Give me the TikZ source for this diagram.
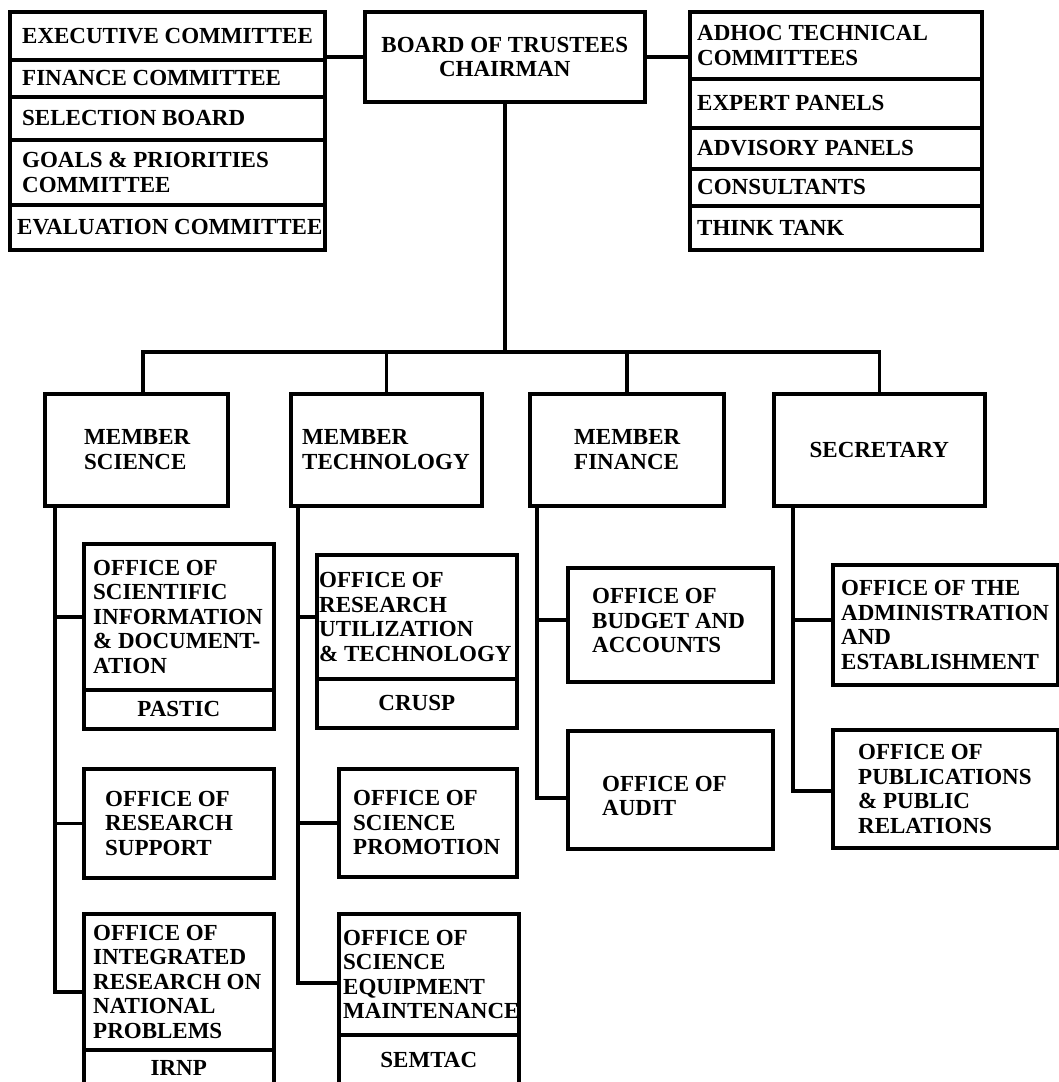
\documentclass[tikz,border=0pt]{standalone}
\usepackage{fontspec}
\setmainfont{Liberation Serif}
\usetikzlibrary{calc}
\newcommand\orglbl{\fontsize{23}{24.5}\selectfont\bfseries}
\tikzset{
  bx/.style={draw, line width=3.6pt, rectangle, inner sep=0pt, anchor=north west},
  ctx/.style={bx, font=\orglbl, align=center},
  tx/.style={font=\orglbl, align=left, inner sep=0pt, anchor=west},
  ln/.style={line width=3.6pt},
}
\begin{document}
\begin{tikzpicture}[x=1pt,y=-1pt]
\useasboundingbox (0,0) rectangle (1058,1082);
% ---------- left stack
\node[bx, minimum width=315, minimum height=48] (ec) at (8,10) {};
\node[bx, minimum width=315, minimum height=37] (fc) at (8,58) {};
\node[bx, minimum width=315, minimum height=43] (sb) at (8,95) {};
\node[bx, minimum width=315, minimum height=65] (gp) at (8,138) {};
\node[bx, minimum width=315, minimum height=45] (evc) at (8,203) {};
\node[tx] (ec-t) at ($(ec.west)+(14,0)$) {EXECUTIVE COMMITTEE};
\node[tx] (fc-t) at ($(fc.west)+(14,0)$) {FINANCE COMMITTEE};
\node[tx] (sb-t) at ($(sb.west)+(14,0)$) {SELECTION BOARD};
\node[tx] (gp-t) at ($(gp.west)+(14,0)$) {GOALS \& PRIORITIES\\COMMITTEE};
\node[tx] (evc-t) at ($(evc.west)+(9,0)$) {EVALUATION COMMITTEE};
% ---------- board
\node[ctx, minimum width=280, minimum height=90] (bot) at (363,10) {BOARD OF TRUSTEES\\CHAIRMAN};
% ---------- right stack
\node[bx, minimum width=292, minimum height=67] (adhoc) at (688,10) {};
\node[bx, minimum width=292, minimum height=49] (expert) at (688,77) {};
\node[bx, minimum width=292, minimum height=41] (advisory) at (688,126) {};
\node[bx, minimum width=292, minimum height=37] (consult) at (688,167) {};
\node[bx, minimum width=292, minimum height=44] (think) at (688,204) {};
\node[tx] (adhoc-t) at ($(adhoc.west)+(9,0)$) {ADHOC TECHNICAL\\COMMITTEES};
\node[tx] (expert-t) at ($(expert.west)+(9,0)$) {EXPERT PANELS};
\node[tx] (advisory-t) at ($(advisory.west)+(9,0)$) {ADVISORY PANELS};
\node[tx] (consult-t) at ($(consult.west)+(9,0)$) {CONSULTANTS};
\node[tx] (think-t) at ($(think.west)+(9,0)$) {THINK TANK};
% ---------- members
\node[bx, minimum width=183, minimum height=112] (msc) at (43,392) {};
\node[bx, minimum width=191, minimum height=112] (mtech) at (289,392) {};
\node[bx, minimum width=194, minimum height=112] (mfin) at (528,392) {};
\node[ctx, minimum width=211, minimum height=112] (sec) at (772,392) {SECRETARY};
\node[tx] (msc-t) at ($(msc.west)+(41,0)$) {MEMBER\\SCIENCE};
\node[tx] (mtech-t) at ($(mtech.west)+(13,0)$) {MEMBER\\TECHNOLOGY};
\node[tx] (mfin-t) at ($(mfin.west)+(46,0)$) {MEMBER\\FINANCE};
% ---------- science offices
\node[bx, minimum width=190, minimum height=146] (osid) at (82,542) {};
\node[ctx, minimum width=190, minimum height=39] (pastic) at (82,688) {PASTIC};
\node[tx] (osid-t) at ($(osid.west)+(11,0)$) {OFFICE OF\\SCIENTIFIC\\INFORMATION\\\& DOCUMENT-\\ATION};
\node[bx, minimum width=190, minimum height=109] (orsup) at (82,767) {};
\node[tx] (orsup-t) at ($(orsup.west)+(23,0)$) {OFFICE OF\\RESEARCH\\SUPPORT};
\node[bx, minimum width=190, minimum height=136] (oirnp) at (82,912) {};
\node[ctx, minimum width=190, minimum height=36] (irnp) at (82,1048) {IRNP};
\node[tx] (oirnp-t) at ($(oirnp.west)+(11,0)$) {OFFICE OF\\INTEGRATED\\RESEARCH ON\\NATIONAL\\PROBLEMS};
% ---------- technology offices
\node[bx, minimum width=200, minimum height=124] (oru) at (315,553) {};
\node[ctx, minimum width=200, minimum height=49] (crusp) at (315,677) {CRUSP};
\node[tx] (oru-t) at ($(oru.west)+(4,0)$) {OFFICE OF\\RESEARCH\\UTILIZATION\\\& TECHNOLOGY};
\node[bx, minimum width=178, minimum height=108] (osp) at (337,767) {};
\node[tx] (osp-t) at ($(osp.west)+(16,0)$) {OFFICE OF\\SCIENCE\\PROMOTION};
\node[bx, minimum width=180, minimum height=121] (osem) at (337,912) {};
\node[ctx, minimum width=180, minimum height=51] (semtac) at (337,1033) {SEMTAC};
\node[tx] (osem-t) at ($(osem.west)+(6,0)$) {OFFICE OF\\SCIENCE\\EQUIPMENT\\MAINTENANCE};
% ---------- finance offices
\node[bx, minimum width=205, minimum height=114] (obud) at (566,566) {};
\node[tx] (obud-t) at ($(obud.west)+(26,-4)$) {OFFICE OF\\BUDGET AND\\ACCOUNTS};
\node[bx, minimum width=205, minimum height=118] (oaud) at (566,729) {};
\node[tx] (oaud-t) at ($(oaud.west)+(36,6)$) {OFFICE OF\\AUDIT};
% ---------- secretary offices
\node[bx, minimum width=225, minimum height=120] (oadm) at (831,563) {};
\node[tx] (oadm-t) at ($(oadm.west)+(10,0)$) {OFFICE OF THE\\ADMINISTRATION\\AND\\ESTABLISHMENT};
\node[bx, minimum width=225, minimum height=118] (opub) at (831,728) {};
\node[tx] (opub-t) at ($(opub.west)+(27,0)$) {OFFICE OF\\PUBLICATIONS\\\& PUBLIC\\RELATIONS};
% ---------- connectors
\draw[ln] (bot.west) -- (bot.west -| ec.east);
\draw[ln] (bot.east) -- (bot.east -| adhoc.west);
\coordinate (bus) at (503,352);
\draw[ln] (bot.south) -- (bot.south |- bus);
\coordinate (d1) at ($(msc.north)+(6.5,0)$);
\draw[ln] (d1) -- (d1 |- bus) -- (sec.north |- bus) -- (sec.north);
\draw[ln] (mtech.north) -- (mtech.north |- bus);
\draw[ln] (mfin.north) -- (mfin.north |- bus);
% spines
\coordinate (s1) at ($(msc.south west)+(12,0)$);
\draw[ln] (s1) |- (osid.west);
\draw[ln] (s1) |- (orsup.west);
\draw[ln] (s1) |- ($(oirnp.north west)+(0,80)$);
\coordinate (s2) at ($(mtech.south west)+(9,0)$);
\draw[ln] (s2) |- (oru.west);
\draw[ln] (s2) |- (osp.west);
\draw[ln] (s2) |- ($(osem.north west)+(0,71)$);
\coordinate (s3) at ($(mfin.south west)+(9,0)$);
\draw[ln] (s3) |- ($(obud.north west)+(0,54)$);
\draw[ln] (s3) |- ($(oaud.north west)+(0,69)$);
\coordinate (s4) at ($(sec.south west)+(21,0)$);
\draw[ln] (s4) |- ($(oadm.north west)+(0,57)$);
\draw[ln] (s4) |- ($(opub.north west)+(0,63)$);
\end{tikzpicture}
\end{document}
